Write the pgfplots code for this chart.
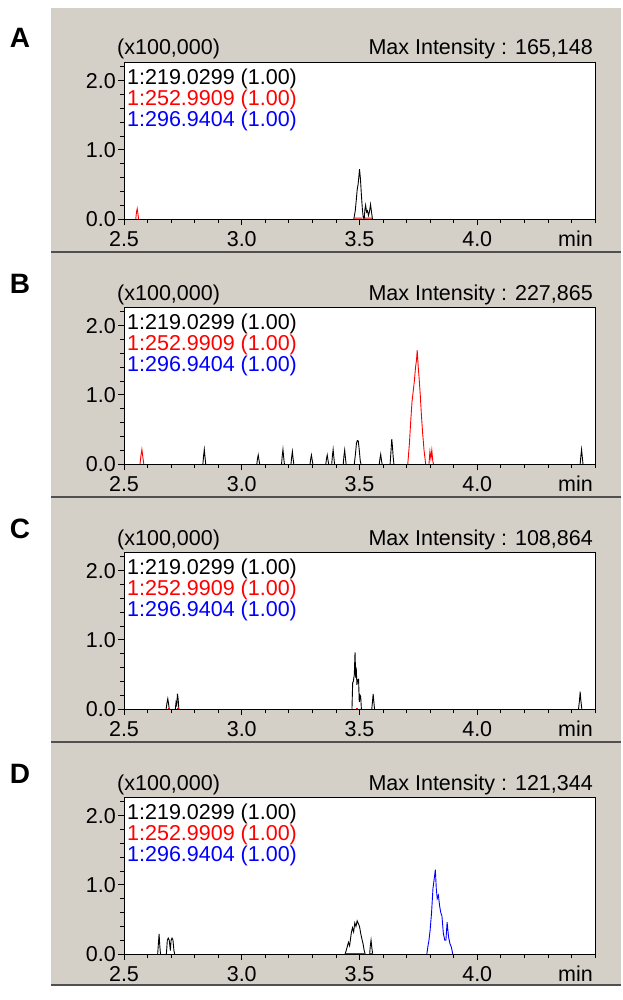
\documentclass[border=0pt]{standalone}
\usepackage{fontspec}
\setmainfont{Liberation Sans}
\usepackage{pgfplots}
\pgfplotsset{compat=1.18}
\definecolor{panelgray}{RGB}{212,208,200}
\definecolor{sepgray}{RGB}{80,80,80}
\newcommand{\tf}{\fontsize{21.5}{21}\selectfont}
\pgfplotsset{panel/.style={
  scale only axis, width=471pt, height=157pt,
  xmin=2.5, xmax=4.5, ymin=0, ymax=2.27,
  axis background/.style={fill=white},
  axis on top, clip mode=individual,
  unbounded coords=jump,
  axis line style={black, line width=0.9pt},
  xtick={2.5,3.0,3.5,4.0}, xticklabels={2.5,3.0,3.5,4.0},
  minor xtick={2.6,2.7,2.8,2.9,3.1,3.2,3.3,3.4,3.6,3.7,3.8,3.9,4.1,4.2,4.3,4.4,4.5},
  ytick={0,1,2}, yticklabels={0.0,1.0,2.0},
  minor ytick={0.2,0.4,0.6,0.8,1.2,1.4,1.6,1.8,2.2},
  xtick pos=bottom, ytick pos=left, tick align=outside,
  x tick style={black, line width=0.8pt}, y tick style={black, line width=0.8pt},
  major tick length=6pt, minor tick length=4pt,
  xticklabel style={font=\tf, inner sep=0pt, anchor=north, yshift=-6pt},
  yticklabel style={font=\tf, inner sep=0pt, anchor=east, xshift=-2pt},
  every axis plot/.append style={line width=0.9pt, mark=none},
  anchor=south west,
}}
\newcommand{\heads}[1]{%
  \node[font=\tf, anchor=base west, inner sep=0pt] at ([xshift=-7pt,yshift=7pt]axis description cs:0,1) {(x100,000)};
  \node[font=\tf, anchor=base east, inner sep=0pt] at ([xshift=-2pt,yshift=7pt]axis description cs:1,1) {Max Intensity : #1};
  \node[font=\tf, anchor=base west, inner sep=0pt, text=black] at ([xshift=3pt,yshift=-22.5pt]axis description cs:0,1) {1:219.0299 (1.00)};
  \node[font=\tf, anchor=base west, inner sep=0pt, text=red] at ([xshift=3pt,yshift=-43.5pt]axis description cs:0,1) {1:252.9909 (1.00)};
  \node[font=\tf, anchor=base west, inner sep=0pt, text=blue] at ([xshift=3pt,yshift=-64.5pt]axis description cs:0,1) {1:296.9404 (1.00)};
  \node[font=\tf, anchor=base east, inner sep=0pt] at ([xshift=-2pt,yshift=-27pt]axis description cs:1,0) {min};
}
\begin{document}
\begin{tikzpicture}
\fill[white] (0pt,0pt) rectangle (621pt,-1000pt);
\fill[panelgray] (51pt,-8pt) rectangle (621pt,-985pt);
\foreach \y in {252,497,742,985} {\draw[sepgray, line width=2pt] (51pt,-\y pt) -- (621pt,-\y pt);}
\foreach \l/\y in {A/38,B/284,C/529,D/774} {\node[font=\fontsize{28}{28}\selectfont\bfseries, inner sep=0pt] at (20pt,-\y pt) {\l};}

% Panel A
\begin{axis}[panel, at={(124pt,-219pt)}]
\addplot[black] coordinates {(3.476,0) (3.482,0.12) (3.487,0.3) (3.490,0.42) (3.494,0.5) (3.497,0.6) (3.500,0.72) (3.504,0.58) (3.508,0.35) (3.512,0.15) (3.516,0.02) (3.520,0.0) (3.523,0.14) (3.526,0.2) (3.530,0.1) (3.534,0.12) (3.538,0.05) (3.542,0.1) (3.547,0.21) (3.551,0.1) (3.555,0)};
\addplot[red] coordinates {(2.550,0) (2.553,0.1) (2.556,0.15) (2.559,0.08) (2.562,0) (2.6,nan) (3.478,0.012) (3.512,0.012) (3.515,nan) (3.522,0.012) (3.554,0.012)};
\heads{165,148}
\end{axis}

% Panel B
\begin{axis}[panel, at={(124pt,-464pt)}]
\addplot[black] coordinates {
 (2.835,0) (2.838,0.12) (2.841,0.21) (2.844,0.1) (2.847,0) (2.9,nan)
 (3.064,0) (3.067,0.08) (3.070,0.13) (3.073,0.06) (3.076,0) (3.1,nan)
 (3.169,0) (3.172,0.12) (3.175,0.21) (3.178,0.1) (3.181,0) (3.19,nan)
 (3.209,0) (3.212,0.1) (3.215,0.18) (3.218,0.08) (3.221,0) (3.25,nan)
 (3.290,0) (3.293,0.08) (3.296,0.13) (3.299,0.06) (3.302,0) (3.33,nan)
 (3.357,0) (3.360,0.08) (3.363,0.13) (3.366,0.06) (3.369,0) (3.375,nan)
 (3.382,0) (3.385,0.12) (3.388,0.21) (3.391,0.1) (3.394,0) (3.41,nan)
 (3.431,0) (3.434,0.12) (3.437,0.2) (3.440,0.1) (3.443,0) (3.46,nan)
 (3.478,0) (3.483,0.15) (3.487,0.3) (3.491,0.34) (3.495,0.33) (3.499,0.2) (3.503,0.05) (3.506,0) (3.55,nan)
 (3.584,0) (3.587,0.08) (3.590,0.14) (3.593,0.06) (3.596,0) (3.61,nan)
 (3.630,0) (3.634,0.2) (3.637,0.36) (3.640,0.25) (3.643,0.1) (3.646,0) (4.0,nan)
 (4.437,0) (4.440,0.12) (4.443,0.21) (4.446,0.1) (4.449,0)};
\addplot[red] coordinates {(2.568,0) (2.572,0.12) (2.576,0.21) (2.580,0.1) (2.584,0) (3.0,nan)
 (3.705,0) (3.712,0.3) (3.718,0.65) (3.723,0.9) (3.728,1.05) (3.733,1.2) (3.738,1.4) (3.742,1.5) (3.745,1.645) (3.749,1.42) (3.753,1.25) (3.758,1.0) (3.763,0.7) (3.768,0.45) (3.774,0.2) (3.781,0) (3.79,nan)
 (3.795,0) (3.799,0.18) (3.803,0.08) (3.807,0.2) (3.811,0.05) (3.814,0)};
\heads{227,865}
\end{axis}

% Panel C
\begin{axis}[panel, at={(124pt,-709pt)}]
\addplot[black] coordinates {
 (2.679,0) (2.683,0.1) (2.686,0.15) (2.689,0.08) (2.692,0) (2.70,nan)
 (2.718,0) (2.721,0.1) (2.724,0.06) (2.727,0.22) (2.730,0.14) (2.733,0) (3.0,nan)
 (3.468,0) (3.471,0.38) (3.474,0.4) (3.478,0.5) (3.481,0.82) (3.484,0.45) (3.486,0.6) (3.489,0.35) (3.492,0.42) (3.496,0.43) (3.499,0.1) (3.502,0.2) (3.505,0.18) (3.508,0) (3.53,nan)
 (3.552,0) (3.555,0.1) (3.558,0.22) (3.561,0.1) (3.564,0) (4.0,nan)
 (4.430,0) (4.434,0.12) (4.437,0.25) (4.440,0.12) (4.444,0)};
\addplot[red] coordinates {(2.686,0.012) (2.694,0.012) (2.70,nan) (2.727,0.012) (2.735,0.012) (3.0,nan) (3.486,0.012) (3.494,0.012)};
\heads{108,864}
\end{axis}

% Panel D
\begin{axis}[panel, at={(124pt,-954pt)}]
\addplot[black] coordinates {
 (2.643,0) (2.646,0.15) (2.649,0.29) (2.652,0.12) (2.655,0) (2.67,nan)
 (2.680,0) (2.684,0.2) (2.688,0.23) (2.692,0.2) (2.697,0.05) (2.700,0.2) (2.704,0.23) (2.708,0.2) (2.712,0.05) (2.715,0) (3.0,nan)
 (3.439,0) (3.446,0.08) (3.453,0.17) (3.458,0.12) (3.465,0.3) (3.470,0.38) (3.475,0.32) (3.480,0.45) (3.485,0.4) (3.490,0.48) (3.495,0.44) (3.500,0.4) (3.505,0.3) (3.510,0.22) (3.515,0.15) (3.520,0.05) (3.524,0) (3.53,nan)
 (3.543,0) (3.546,0.12) (3.549,0.2) (3.552,0.1) (3.556,0)};
\addplot[red] coordinates {(3.442,0.012) (3.522,0.012) (3.53,nan) (3.542,0.012) (3.558,0.012)};
\addplot[blue] coordinates {(3.786,0) (3.790,0.1) (3.795,0.2) (3.800,0.35) (3.806,0.6) (3.812,0.95) (3.817,1.08) (3.822,1.22) (3.826,0.95) (3.830,0.8) (3.835,0.85) (3.840,0.7) (3.845,0.6) (3.850,0.55) (3.856,0.3) (3.862,0.2) (3.867,0.2) (3.872,0.46) (3.878,0.25) (3.884,0.15) (3.890,0.1) (3.896,0)};
\heads{121,344}
\end{axis}
\end{tikzpicture}
\end{document}
